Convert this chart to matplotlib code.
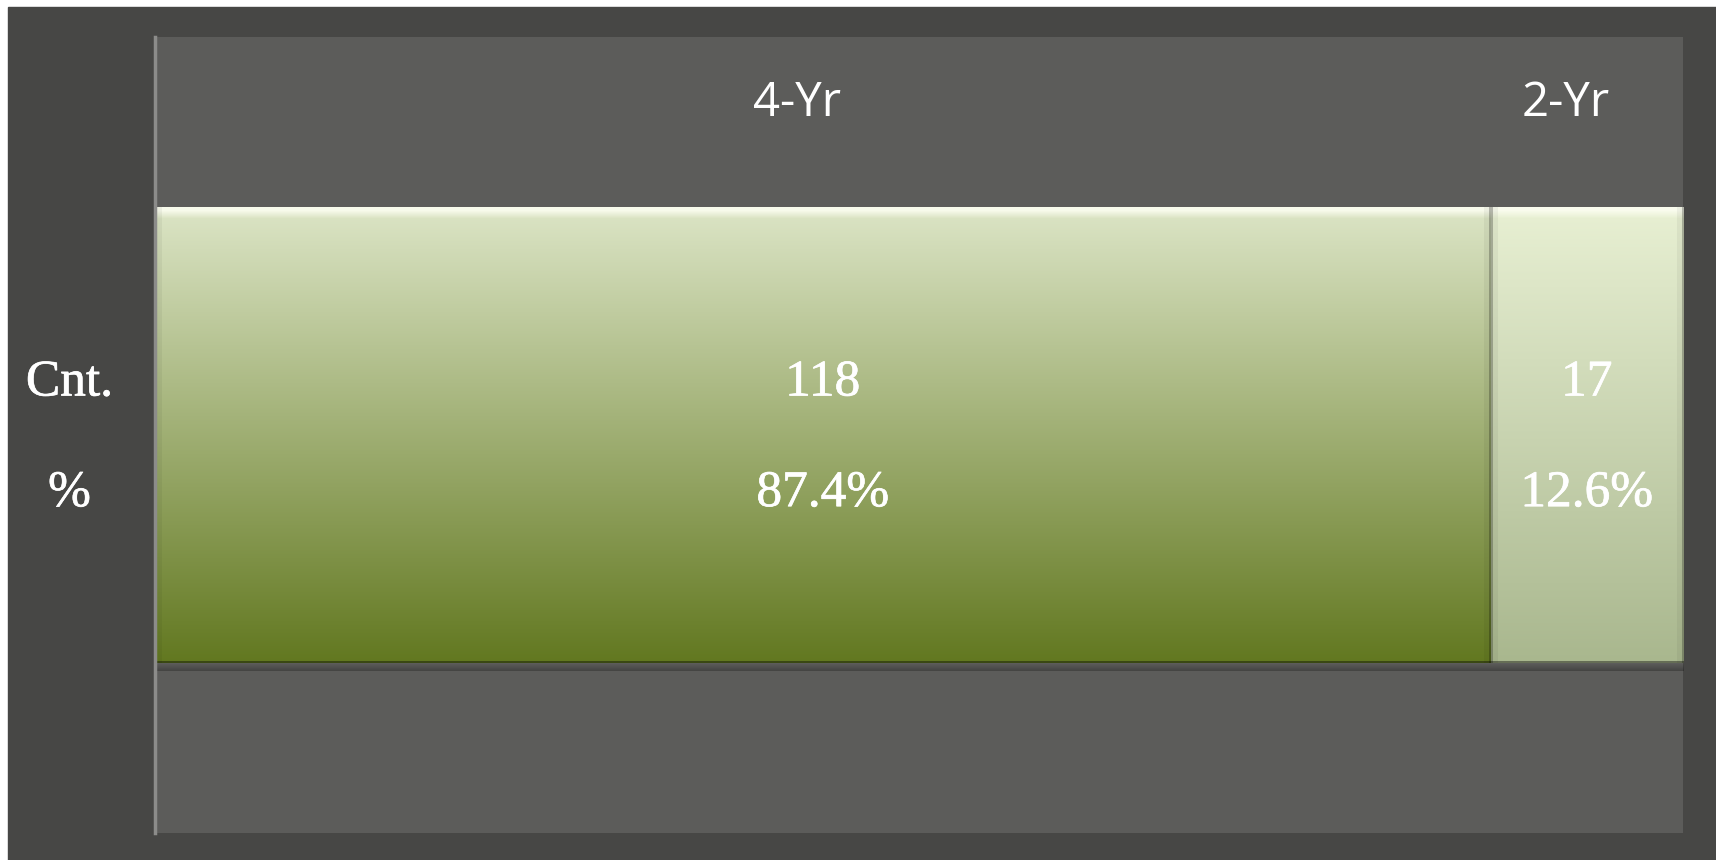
import numpy as np
import matplotlib
matplotlib.use('Agg')
import matplotlib.pyplot as plt
import matplotlib.patheffects as pe
from matplotlib.patches import Rectangle
from matplotlib.colors import to_rgb

# data
categories = ['4-Yr', '2-Yr']
counts = [118, 17]
row_labels = ['Cnt.', '%']

# colours for each segment (top, bottom of gradient)
seg_colors = [('#dce5c6', '#627820'), ('#e8f0d3', '#a9b78e')]

total = sum(counts)
shares = [c / total for c in counts]

fig = plt.figure(figsize=(17.16, 8.6), dpi=100)
fig.patch.set_facecolor('white')
# dark outer frame
fig.patches.append(Rectangle((8 / 1716, 0), 1 - 8 / 1716, 1 - 7 / 860,
                             transform=fig.transFigure, color='#474745', zorder=-5))

AX_W, AX_H = 1528, 796
ax = fig.add_axes([155 / 1716, 27 / 860, AX_W / 1716, AX_H / 860])
ax.set_zorder(2)
ax.set_facecolor('#5c5c5a')
for s in ['top', 'right', 'bottom']:
    ax.spines[s].set_visible(False)
ax.spines['left'].set_color('#8c8c8a')
ax.spines['left'].set_linewidth(2.5)
ax.set_xticks([])
ax.set_yticks([])

bar_y = 0.5
bar_h = 0.572
y0, y1 = bar_y - bar_h / 2, bar_y + bar_h / 2
serif = dict(color='white', fontsize=37, family='Liberation Serif', ha='center', va='center',
             path_effects=[pe.withStroke(linewidth=0.5, foreground='white')])
head_shift = [-0.017, -0.0136]


def bevel_image(top, bottom, w, h):
    # vertical gradient with a light top bevel and darker edges
    t = np.linspace(1, 0, h).reshape(-1, 1, 1)
    img = np.array(bottom) + (np.array(top) - np.array(bottom)) * t
    img = np.repeat(img, w, axis=1)
    d_top = np.arange(h).reshape(-1, 1)
    hi = np.clip(1 - (d_top - 3) / 8.0, 0, 1) * 0.9
    img = img * (1 - hi[..., None]) + np.array(to_rgb('#fbfdf0')) * hi[..., None]
    d_bot = (h - 1 - np.arange(h)).reshape(-1, 1)
    img[(d_bot < 2)[:, 0]] *= 0.6
    cols = np.arange(w)
    d_side = np.minimum(cols, w - 1 - cols)
    shade = np.where(d_side < 2, 0.72, np.where(d_side < 7, 0.95, 1.0))
    img = img * shade[None, :, None]
    return np.clip(img, 0, 1)


left = 0
for i, (cat, cnt, sh) in enumerate(zip(categories, counts, shares)):
    bars = ax.barh(bar_y, sh, left=left, height=bar_h, color='none', edgecolor='none')
    w = int(round(sh * AX_W))
    h = int(round(bar_h * AX_H))
    img = bevel_image(to_rgb(seg_colors[i][0]), to_rgb(seg_colors[i][1]), w, h)
    im = ax.imshow(img, aspect='auto', interpolation='bilinear',
                   extent=[left, left + sh, y0, y1], zorder=2)
    im.set_clip_path(bars[0])
    cx = left + sh / 2
    ax.text(cx + head_shift[i], 0.917, cat, ha='center', va='center',
            color='white', fontsize=34, family='Open Sans')
    ax.text(cx, 0.565, str(cnt), zorder=4, **serif)
    ax.text(cx, 0.426, '%.1f%%' % (sh * 100), zorder=4, **serif)
    left += sh

# soft shadow under the bar
sh_img = np.zeros((8, 2, 4))
sh_img[..., 3] = np.linspace(0, 0.25, 8).reshape(-1, 1)
ax.imshow(sh_img, aspect='auto', extent=[0, 1, y0 - 8 / AX_H, y0], zorder=1,
          interpolation='bilinear')
ax.set_xlim(0, 1)
ax.set_ylim(0, 1)

for lab, yy in zip(row_labels, [0.565, 0.426]):
    ax.text(-0.056, yy, lab, clip_on=False, **serif)

fig.savefig('out.png', dpi=100, facecolor=fig.get_facecolor())
